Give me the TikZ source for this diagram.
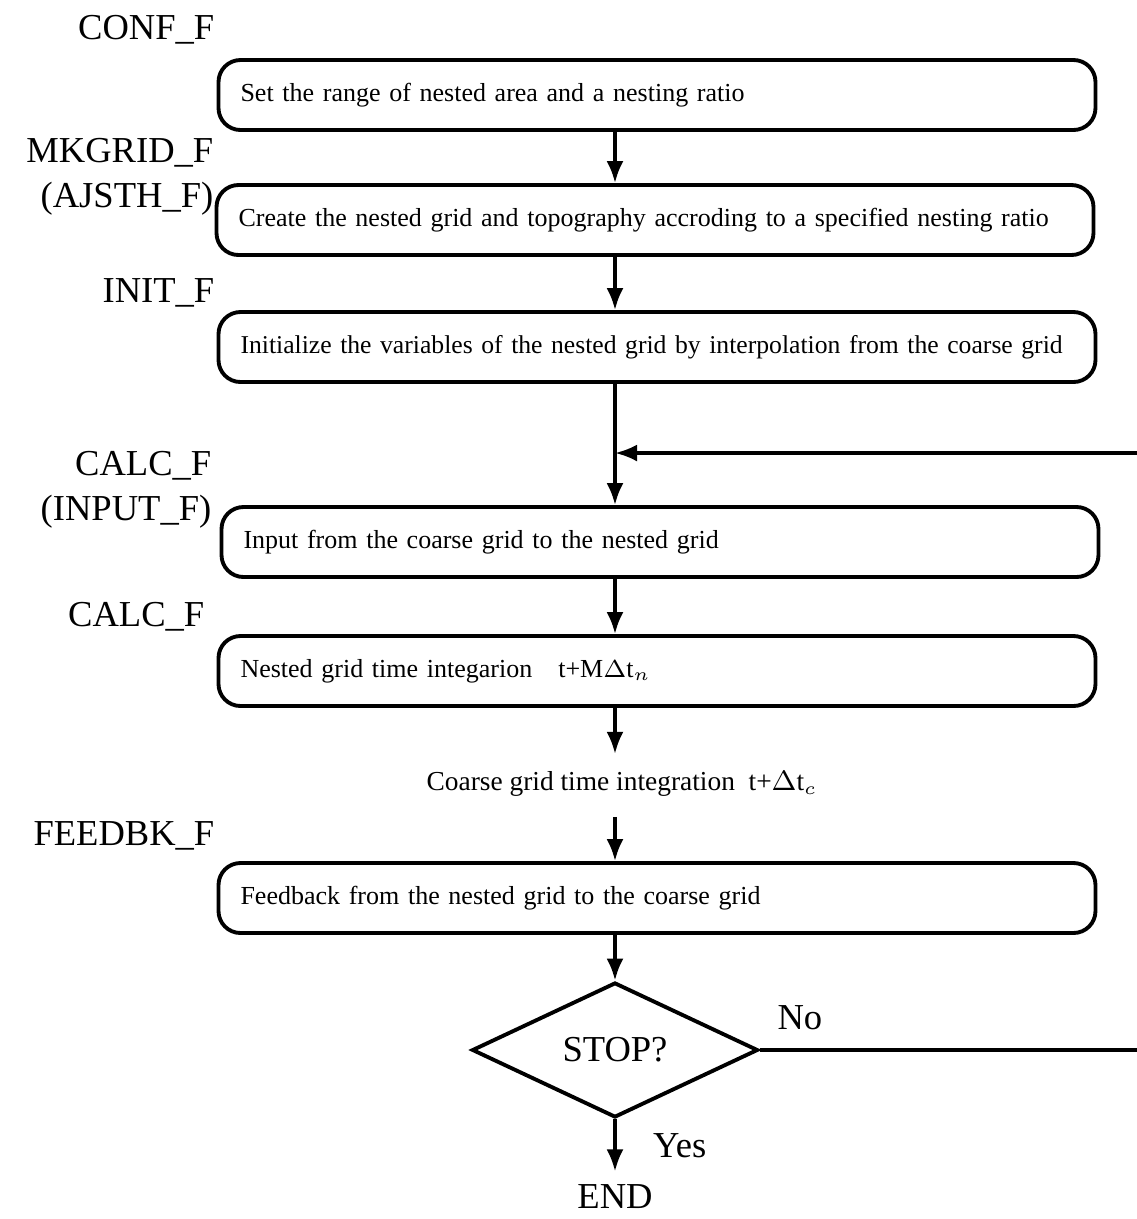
\documentclass[tikz,border=0pt]{standalone}
\usepackage{fontspec}
\setmainfont{Liberation Serif}
\usetikzlibrary{arrows.meta,shapes.geometric,positioning}

\tikzset{
    stepbox/.style={draw,line width=1.1pt,rounded corners=2.2mm,minimum height=7mm,
        text width=83.3mm,inner xsep=2.2mm,align=left,font=\fontsize{7.4}{9}\selectfont},
    lbl/.style={anchor=east,align=right,inner sep=0pt,font=\fontsize{10.4}{12.8}\selectfont},
    flow/.style={line width=1pt,-{Latex[length=2.2mm,width=1.7mm]}},
}

\begin{document}
\begin{tikzpicture}[x=0.1mm,y=-0.1mm]
        \def\sx{615} % x of the main line
        \useasboundingbox (0,0) rectangle (1137,1219);
        \coordinate (spine) at (\sx,0);

        % boxes
        \node[stepbox] (conf)   at (657,95)  {Set the range of nested area and a nesting ratio};
        \node[stepbox] (mkgrid) at (655,220) {Create the nested grid and topography accroding to a specified nesting ratio};
        \node[stepbox,font=\fontsize{7.3}{9}\selectfont] (init) at (657,347) {Initialize the variables of the nested grid by interpolation from the coarse grid};
        \node[stepbox] (input)  at (660,542) {Input from the coarse grid to the nested grid};
        \node[stepbox] (calc)   at (657,671) {Nested grid time integarion\quad t+M$\Delta$t$_{n}$};
        \node[font=\fontsize{7.8}{9}\selectfont] (coarse) at (622,784) {Coarse grid time integration\ \ t+$\Delta$t$_{c}$};
        \node[stepbox] (feedbk) at (657,898) {Feedback from the nested grid to the coarse grid};
        \node[draw,diamond,line width=1.1pt,minimum width=28.6mm,minimum height=13.5mm,inner sep=0pt,
            font=\fontsize{10.4}{12}\selectfont] (stop) at (\sx,1050) {STOP?};
        \node[font=\fontsize{10.4}{12}\selectfont] (end) at (\sx,1197) {END};

        % routine names
        \node[lbl] (lconf)   at (215,30)  {CONF\_F};
        \node[lbl] (lmkgrid) at (214,177) {MKGRID\_F\\(AJSTH\_F)};
        \node[lbl] (linit)   at (215,293) {INIT\_F};
        \node[lbl] (linput)  at (212,490) {CALC\_F\\(INPUT\_F)};
        \node[lbl] (lcalc)   at (205,617) {CALC\_F};
        \node[lbl] (lfeedbk) at (215,836) {FEEDBK\_F};

        % main line
        \coordinate (join) at (\sx,453);
        \draw[flow] (conf.south -| spine) -- (mkgrid.north -| spine);
        \draw[flow] (mkgrid.south -| spine) -- (init.north -| spine);
        \draw[flow] (init.south -| spine) -- (input.north -| spine);
        \draw[flow] (input.south -| spine) -- (calc.north -| spine);
        \draw[flow] (calc.south -| spine) -- ++(0,46);
        \draw[flow] (coarse.south -| spine) ++(0,8) -- (feedbk.north -| spine);
        \draw[flow] (feedbk.south -| spine) -- (stop.north);
        \draw[flow] (stop.south) -- node[right=7pt,font=\fontsize{10.4}{12}\selectfont] {Yes} ++(0,52);

        % loop back
        \draw[flow] (stop.east) -- node[pos=0.1,above=2pt,font=\fontsize{10.4}{12}\selectfont] {No} (1160,1050) |- (join);
\end{tikzpicture}
\end{document}
